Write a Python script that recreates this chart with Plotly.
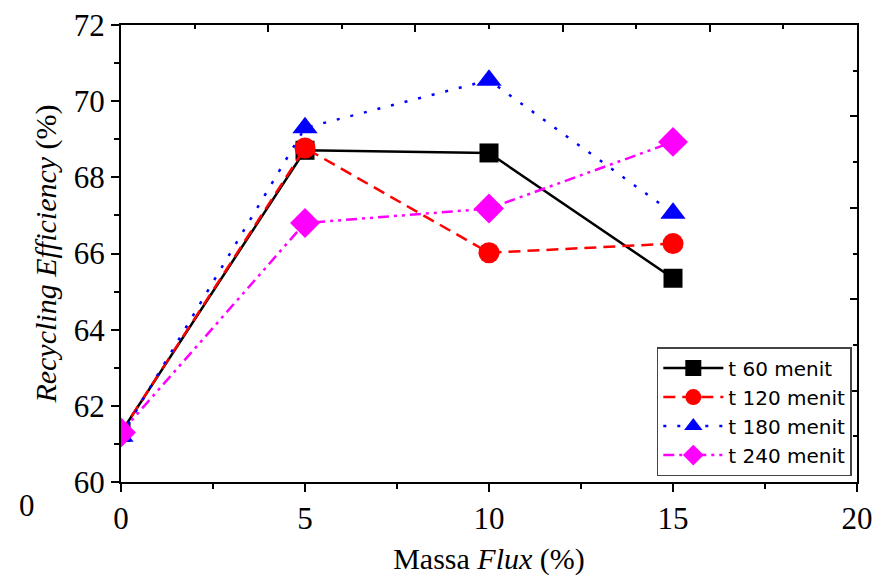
import plotly.graph_objects as go

massa_flux = [0, 5, 10, 15]
t60 = [61.3, 68.71, 68.64, 65.35]
t120 = [61.3, 68.77, 66.02, 66.26]
t180 = [61.2, 69.3, 70.55, 67.06]
t240 = [61.3, 66.8, 67.18, 68.93]
series_names = ["t 60 menit", "t 120 menit", "t 180 menit", "t 240 menit"]

fig = go.Figure()
styles = [
    dict(color="black", dash="solid", symbol="square", size=19),
    dict(color="#ff0000", dash="12px,7px", symbol="circle", size=21),
    dict(color="#0000ff", dash="3px,11px", symbol="triangle-up", size=22),
    dict(color="#ff00ff", dash="11px,5px,3px,5px,3px,5px", symbol="diamond", size=23),
]
for name, vals, st in zip(series_names, [t60, t120, t180, t240], styles):
    fig.add_trace(go.Scatter(
        x=massa_flux, y=vals, name=name, mode="lines+markers",
        line=dict(color=st["color"], dash=st["dash"], width=2.5),
        marker=dict(symbol=st["symbol"], size=st["size"], color=st["color"]),
    ))

# invisible trace to activate secondary axes
fig.add_trace(go.Scatter(x=[0], y=[0], xaxis="x2", yaxis="y2", showlegend=False,
                         mode="markers", marker=dict(opacity=0), hoverinfo="skip"))

serif = "Liberation Serif"
tickfont = dict(family=serif, size=31, color="black")
titlefont = dict(family=serif, size=30, color="black")
W, H = 875, 576
L, R, T, B = 121, 18, 25, 94
fig.update_layout(
    width=W, height=H,
    margin=dict(l=L, r=R, t=T, b=B, autoexpand=False),
    paper_bgcolor="white", plot_bgcolor="white",
    showlegend=True,
    legend=dict(
        x=0.728, y=0.013, xanchor="left", yanchor="bottom",
        bgcolor="white", bordercolor="#444", borderwidth=1.5,
        font=dict(family="DejaVu Sans", size=20, color="black"),
        tracegroupgap=0, itemwidth=60,
    ),
    xaxis=dict(
        range=[0, 20], dtick=5, tick0=0, ticks="outside", ticklen=8, tickwidth=1.5,
        tickcolor="black", showline=True, linecolor="black", linewidth=2,
        showgrid=False, zeroline=False, tickfont=tickfont, automargin=False,
        ticklabeloverflow="allow", mirror=True,
        minor=dict(dtick=2.5, ticks="outside", ticklen=5, tickwidth=1.5, tickcolor="black"),
        title=dict(text="Massa <i>Flux</i> (%)", font=titlefont, standoff=26),
    ),
    yaxis=dict(
        range=[60, 72], dtick=2, tick0=60, ticks="outside", ticklen=8, tickwidth=1.5,
        tickcolor="black", showline=True, linecolor="black", linewidth=2,
        showgrid=False, zeroline=False, tickfont=tickfont, automargin=False,
        ticklabeloverflow="allow", mirror=True,
        minor=dict(dtick=1, ticks="outside", ticklen=5, tickwidth=1.5, tickcolor="black"),
        title=dict(text="<i>Recycling Efficiency</i> (%)", font=titlefont, standoff=8),
    ),
    xaxis2=dict(
        overlaying="x", side="top", range=[0, 20], dtick=4, tick0=0,
        ticks="inside", ticklen=7, tickwidth=1.5, tickcolor="black",
        showticklabels=False, showline=True, linecolor="black", linewidth=2,
        showgrid=False, zeroline=False, automargin=False,
        minor=dict(dtick=2, ticks="inside", ticklen=4, tickwidth=1.5, tickcolor="black"),
    ),
    yaxis2=dict(
        overlaying="y", side="right", range=[0, 10], dtick=2, tick0=0,
        ticks="inside", ticklen=7, tickwidth=1.5, tickcolor="black",
        showticklabels=False, showline=True, linecolor="black", linewidth=2,
        showgrid=False, zeroline=False, automargin=False,
        minor=dict(dtick=1, ticks="inside", ticklen=4, tickwidth=1.5, tickcolor="black"),
    ),
)
pw = W - L - R
ph = H - T - B
# stray "0" label at (17, 525) in page pixels
fig.add_annotation(text="0", x=(17 - L) / pw, y=(H - B - 525) / ph,
                   xref="paper", yref="paper", showarrow=False, font=tickfont)

fig.write_html("out.html", config={"displayModeBar": False},
               post_script="document.body.style.margin='0';document.body.style.overflow='hidden';")
